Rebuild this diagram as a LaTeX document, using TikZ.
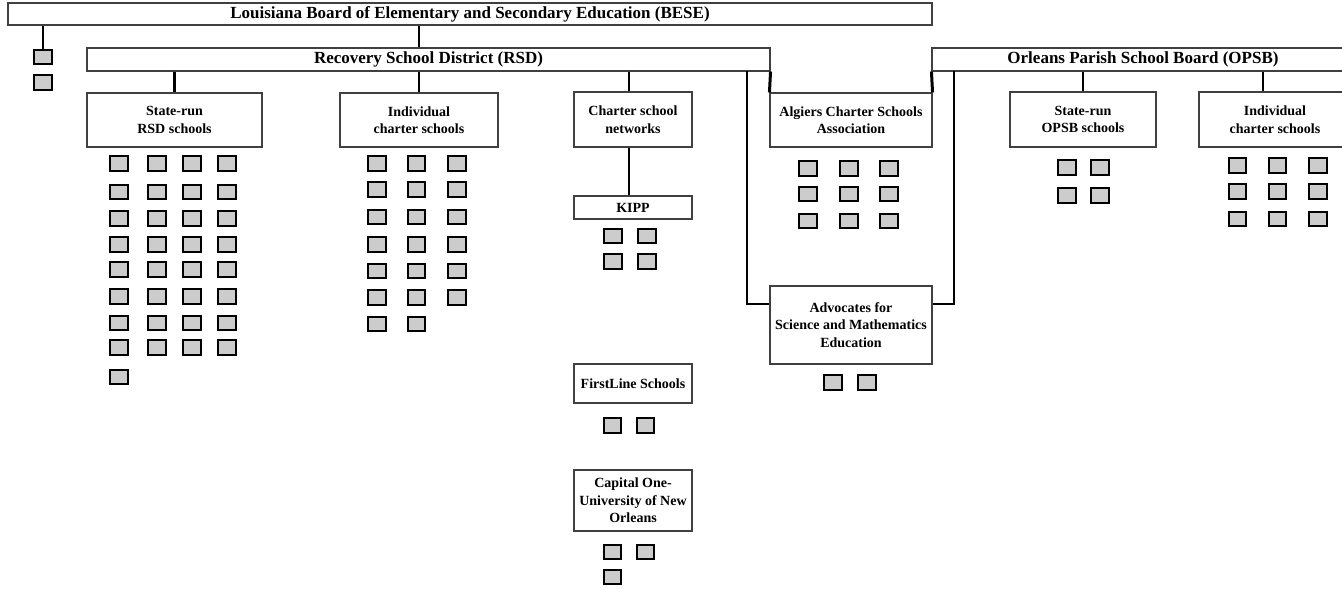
\documentclass[tikz,border=0pt]{standalone}
\usepackage{fontspec}
\setmainfont{Liberation Serif}
\usetikzlibrary{positioning}

\begin{document}
\begin{tikzpicture}
        [
        x=1pt, y=-1pt,
        header/.style={draw=black!75, line width=1.1pt, minimum height=23pt, inner sep=0pt, font=\fontsize{17}{20}\selectfont\bfseries},
        unit/.style={draw=black!75, line width=1.1pt, inner sep=0pt, align=center, font=\fontsize{14}{17.5}\selectfont\bfseries},
        school/.style={draw=black, fill=black!20, line width=2.3pt, minimum width=17.5pt, minimum height=14.5pt, inner sep=0pt},
        link/.style={line width=2.2pt}
        ]

        \useasboundingbox (0,0) rectangle (1342,589);
        \clip (0,0) rectangle (1342,589);

        \node[header, minimum width=924pt, minimum height=22pt] (bese) at (470,14) {Louisiana Board of Elementary and Secondary Education (BESE)};
        \node[header, minimum width=683pt] (rsd) at (428.5,59.5) {Recovery School District (RSD)};
        \node[header, minimum width=422pt] (opsb) at (1143,59.5) {Orleans Parish School Board (OPSB)};

        \node[unit, minimum width=175pt, minimum height=54pt] (rsdstate) at (174.5,120) {State-run\\RSD schools};
        \node[unit, minimum width=158pt, minimum height=54pt] (rsdcharter) at (419,120) {Individual\\charter schools};
        \node[unit, minimum width=118pt, minimum height=55pt] (networks) at (633,119.5) {Charter school\\networks};
        \node[unit, minimum width=118pt, minimum height=23pt] (kipp) at (633,207.5) {KIPP};
        \node[unit, minimum width=118pt, minimum height=39pt] (firstline) at (633,383.5) {FirstLine Schools};
        \node[unit, minimum width=118pt, minimum height=61pt] (capone) at (633,500.5) {Capital One-\\University of New\\Orleans};
        \node[unit, minimum width=162pt, minimum height=54pt] (algiers) at (851,120) {Algiers Charter Schools\\Association};
        \node[unit, minimum width=162pt, minimum height=78pt] (asme) at (851,325) {Advocates for\\Science and Mathematics\\Education};
        \node[unit, minimum width=146pt, minimum height=55pt] (opsbstate) at (1083,119.5) {State-run\\OPSB schools};
        \node[unit, minimum width=152pt, minimum height=55pt] (opsbcharter) at (1275,119.5) {Individual\\charter schools};

        % schools
        \node[school] (bese-1) at (43,57) {};
        \node[school] (bese-2) at (43,82.5) {};
        \foreach \r/\y in {1/163.5, 2/192, 3/218.5, 4/244.5, 5/269.5, 6/296.5, 7/323, 8/347.5}
          \foreach \c/\x in {1/119, 2/157, 3/192, 4/227}
            \node[school] (rsdstate-\r-\c) at (\x,\y) {};
        \node[school] (rsdstate-9-1) at (119,377) {};
        \foreach \r/\y in {1/163.5, 2/189.5, 3/217, 4/244.5, 5/271, 6/297.5}
          \foreach \c/\x in {1/377, 2/416.5, 3/457}
            \node[school] (rsdcharter-\r-\c) at (\x,\y) {};
        \node[school] (rsdcharter-7-1) at (377,324) {};
        \node[school] (rsdcharter-7-2) at (416.5,324) {};
        \foreach \r/\y in {1/236, 2/261.5}
          \foreach \c/\x in {1/613, 2/647}
            \node[school] (kipp-\r-\c) at (\x,\y) {};
        \node[school] (firstline-1) at (612.5,425.5) {};
        \node[school] (firstline-2) at (645.5,425.5) {};
        \node[school] (capone-1) at (612.5,552) {};
        \node[school] (capone-2) at (645.5,552) {};
        \node[school] (capone-3) at (612.5,577) {};
        \foreach \r/\y in {1/168.5, 2/194, 3/221}
          \foreach \c/\x in {1/808, 2/849, 3/889}
            \node[school] (algiers-\r-\c) at (\x,\y) {};
        \node[school] (asme-1) at (833,382.5) {};
        \node[school] (asme-2) at (867,382.5) {};
        \foreach \r/\y in {1/167.5, 2/195.5}
          \foreach \c/\x in {1/1067, 2/1100}
            \node[school] (opsbstate-\r-\c) at (\x,\y) {};
        \foreach \r/\y in {1/165.5, 2/191.5, 3/219}
          \foreach \c/\x in {1/1237.5, 2/1277.5, 3/1318}
            \node[school] (opsbcharter-\r-\c) at (\x,\y) {};

        % links
        \coordinate (rsdtap) at (747,71);
        \coordinate (opsbtap) at (954,71);

        \draw[link] (bese.south -| bese-1.north) -- (bese-1.north);
        \draw[link] (bese.south -| rsdcharter.north) -- (rsd.north -| rsdcharter.north);
        \draw[link] (rsd.south -| rsdstate.north) -- (rsdstate.north);
        \draw[link] (rsd.south -| rsdcharter.north) -- (rsdcharter.north);
        \draw[link] ([xshift=-4pt]networks.north |- rsd.south) -- ([xshift=-4pt]networks.north);
        \draw[link] ([xshift=-4pt]networks.south) -- ([xshift=-4pt]kipp.north);
        \draw[link, line width=3pt] (rsd.south east) -- (algiers.north west);
        \draw[link, line width=3pt] (opsb.south west) -- (algiers.north east);
        \draw[link] (rsdtap) |- ([yshift=21pt]asme.west);
        \draw[link] (opsbtap) |- ([yshift=21pt]asme.east);
        \draw[link] (opsb.south -| opsbstate.north) -- (opsbstate.north);
        \draw[link] ([xshift=-12pt]opsbcharter.north |- opsb.south) -- ([xshift=-12pt]opsbcharter.north);

    \end{tikzpicture}
\end{document}
